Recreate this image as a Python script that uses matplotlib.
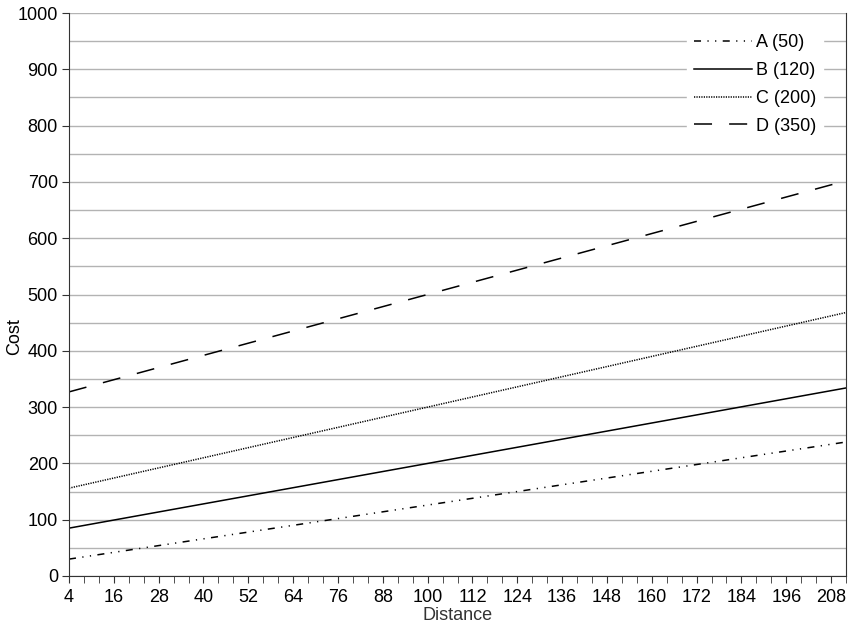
import matplotlib.pyplot as plt
from matplotlib.ticker import MultipleLocator

plt.rcParams["font.family"] = ["Liberation Sans", "DejaVu Sans"]

# Distance end points and cost values (straight lines)
distance = [4, 212]
cost_a = [30, 238]
cost_b = [85, 334]
cost_c = [156, 468]
cost_d = [327, 702]

labels = ["A (50)", "B (120)", "C (200)", "D (350)"]
x_ticks = list(range(4, 209, 12))

fig = plt.figure(figsize=(8.55, 6.25), dpi=100)
ax = fig.add_axes([0.0807, 0.0784, 0.9088, 0.9008])

ax.plot(distance, cost_a, color="black", lw=1.1, dashes=(4.6, 4.2, 0.8, 4.2, 0.8, 4.2), label=labels[0])
ax.plot(distance, cost_b, color="black", lw=1.1, label=labels[1])
ax.plot(distance, cost_c, color="black", lw=1.1, dashes=(0.8, 0.8), label=labels[2])
ax.plot(distance, cost_d, color="black", lw=1.1, dashes=(11.8, 11.2), label=labels[3])

ax.set_xlim(4, 212)
ax.set_ylim(0, 1000)
ax.set_xticks(x_ticks)
ax.xaxis.set_minor_locator(MultipleLocator(4))
ax.yaxis.set_major_locator(MultipleLocator(100))
ax.yaxis.set_minor_locator(MultipleLocator(50))

ax.grid(True, which="both", axis="y", color="#b3b3b3", lw=1)
ax.set_axisbelow(True)
ax.tick_params(axis="x", which="both", direction="out", length=5, color="#333333", labelsize=13, pad=4)
ax.tick_params(axis="y", which="major", direction="out", length=5, color="#333333", labelsize=13, pad=3)
ax.tick_params(axis="y", which="minor", length=0)

for side in ["left", "bottom", "right"]:
    ax.spines[side].set_color("#333333")
ax.spines["top"].set_visible(False)

ax.set_xlabel("Distance", fontsize=13, color="#333333", labelpad=1)
ax.set_ylabel("Cost", fontsize=13)
ax.yaxis.set_label_coords(-0.059, 0.426)

leg = ax.legend(loc="upper right", frameon=True, fontsize=13, handlelength=3.2,
                handletextpad=0.2, labelspacing=0.6, borderaxespad=0,
                bbox_to_anchor=(0.9704, 0.9751))
leg.get_frame().set_edgecolor("white")
leg.get_frame().set_facecolor("white")
leg.get_frame().set_alpha(1)

fig.savefig("out.png", dpi=100)
